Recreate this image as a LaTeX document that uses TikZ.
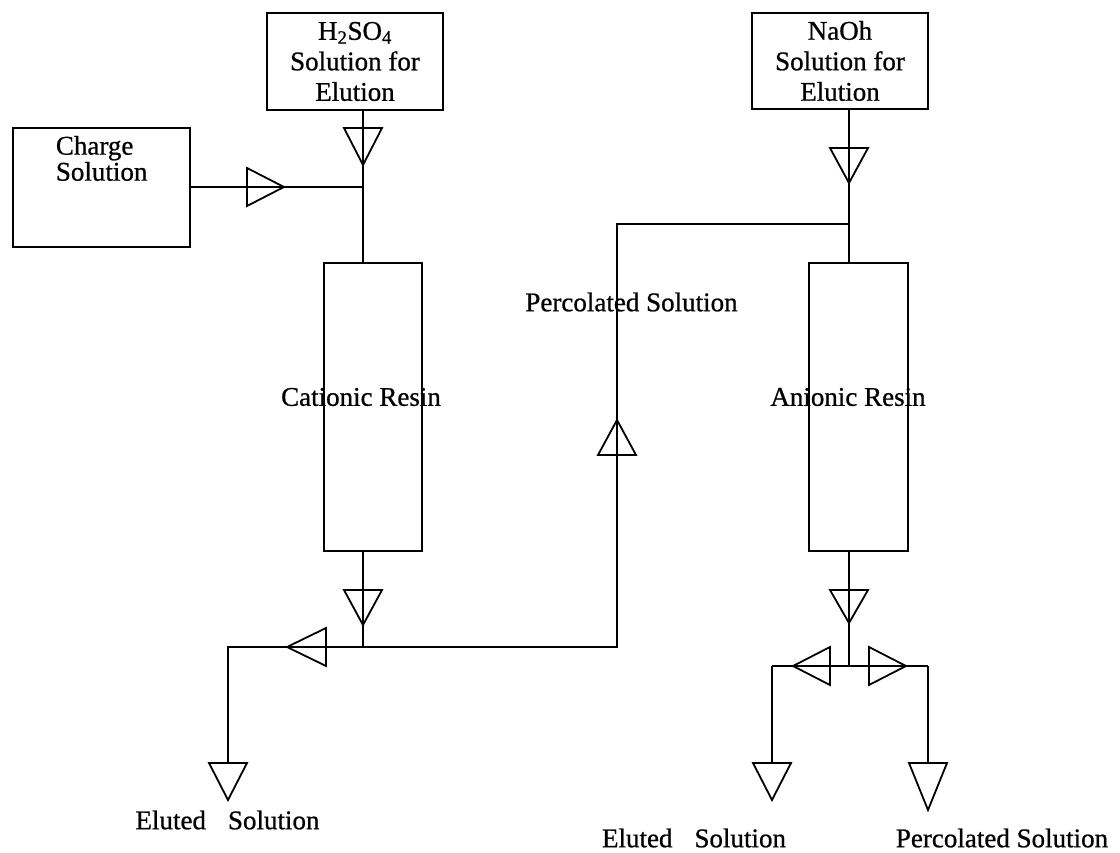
\documentclass[tikz,border=0pt]{standalone}
\usepackage{fontspec}
\setmainfont{Liberation Serif}[FakeBold=0.8]
\begin{document}
\begin{tikzpicture}[x=1pt,y=-1pt, line width=1.8pt,
  box/.style={draw, line width=1.8pt, inner sep=0pt, align=center, font=\fontsize{27}{30.5}\selectfont},
  col/.style={draw, line width=1.8pt, inner sep=0pt},
  lbl/.style={font=\fontsize{27}{30}\selectfont, inner sep=0pt},
  pics/valve/.style={code={\draw[line join=miter] (-19,0) -- (19,0) -- (0,#1) -- cycle;}},
  pics/valve/.default=36]
\useasboundingbox (0,0) rectangle (1120,853);

% boxes
\node[box, minimum width=176, minimum height=97] (h2so4) at (355,61.5) {H\textsubscript{2}SO\textsubscript{4}\\Solution for\\Elution};
\node[box, minimum width=176, minimum height=96] (naoh) at (840,61) {NaOh\\Solution for\\Elution};
\node[col, minimum width=177, minimum height=119] (charge) at (101.5,187.5) {};
\node[lbl, align=left, anchor=north west, font=\fontsize{27}{26}\selectfont] (chargetxt) at (55,135) {Charge\\Solution};
\node[lbl] (cattxt) at (361,397) {Cationic Resin};
\node[col, minimum width=98, minimum height=288] (cation) at (373,407) {};
\node[lbl] (antxt) at (848,397) {Anionic Resin};
\node[col, minimum width=99, minimum height=288] (anion) at (858.5,407) {};

% junctions
\coordinate (j1) at (363,187);
\coordinate (j2) at (363,647);
\coordinate (j3) at (228,647);
\coordinate (e1) at (228,763);
\coordinate (j4) at (617,647);
\coordinate (j5) at (617,224);
\coordinate (j6) at (849,224);
\coordinate (j7) at (849,666);
\coordinate (j8) at (772,666);
\coordinate (e2) at (772,763);
\coordinate (j9) at (928,666);
\coordinate (e3) at (928,763);

% connectors
\draw (h2so4.south -| j1) -- (j1) -- (j1 |- cation.north);
\draw (charge.east |- j1) -- (j1);
\draw (cation.south -| j2) -- (j2);
\draw (j4) -- (j3) -- (e1);
\draw (j2) -- (j4) -- (j5) -- (j6);
\draw (naoh.south -| j6) -- (j6) -- (j6 |- anion.north);
\draw (anion.south -| j7) -- (j7);
\draw (j8) -- (j9);
\draw (j8) -- (e2);
\draw (j9) -- (e3);

% flow triangles
\pic at (363,128) {valve=37};
\pic[rotate=90] at (247,187) {valve=37};
\pic at (363,590) {valve=35};
\pic[rotate=-90] at (326,647) {valve=39};
\pic at (228,763) {valve=37};
\pic[rotate=180] at (617,455) {valve=35};
\pic at (849,148) {valve=35};
\pic at (849,590) {valve=33};
\pic[rotate=-90] at (830,666) {valve=37};
\pic[rotate=90] at (869,666) {valve=37};
\pic at (772,763) {valve=37};
\pic at (928,763) {valve=47};

% labels
\node[lbl] (perc1) at (631.5,302) {Percolated Solution};
\node[lbl] (elu1) at (227.5,820) {Eluted\hspace{22pt}Solution};
\node[lbl] (elu2) at (694,838) {Eluted\hspace{22pt}Solution};
\node[lbl] (perc2) at (1002,838) {Percolated Solution};
\end{tikzpicture}
\end{document}
